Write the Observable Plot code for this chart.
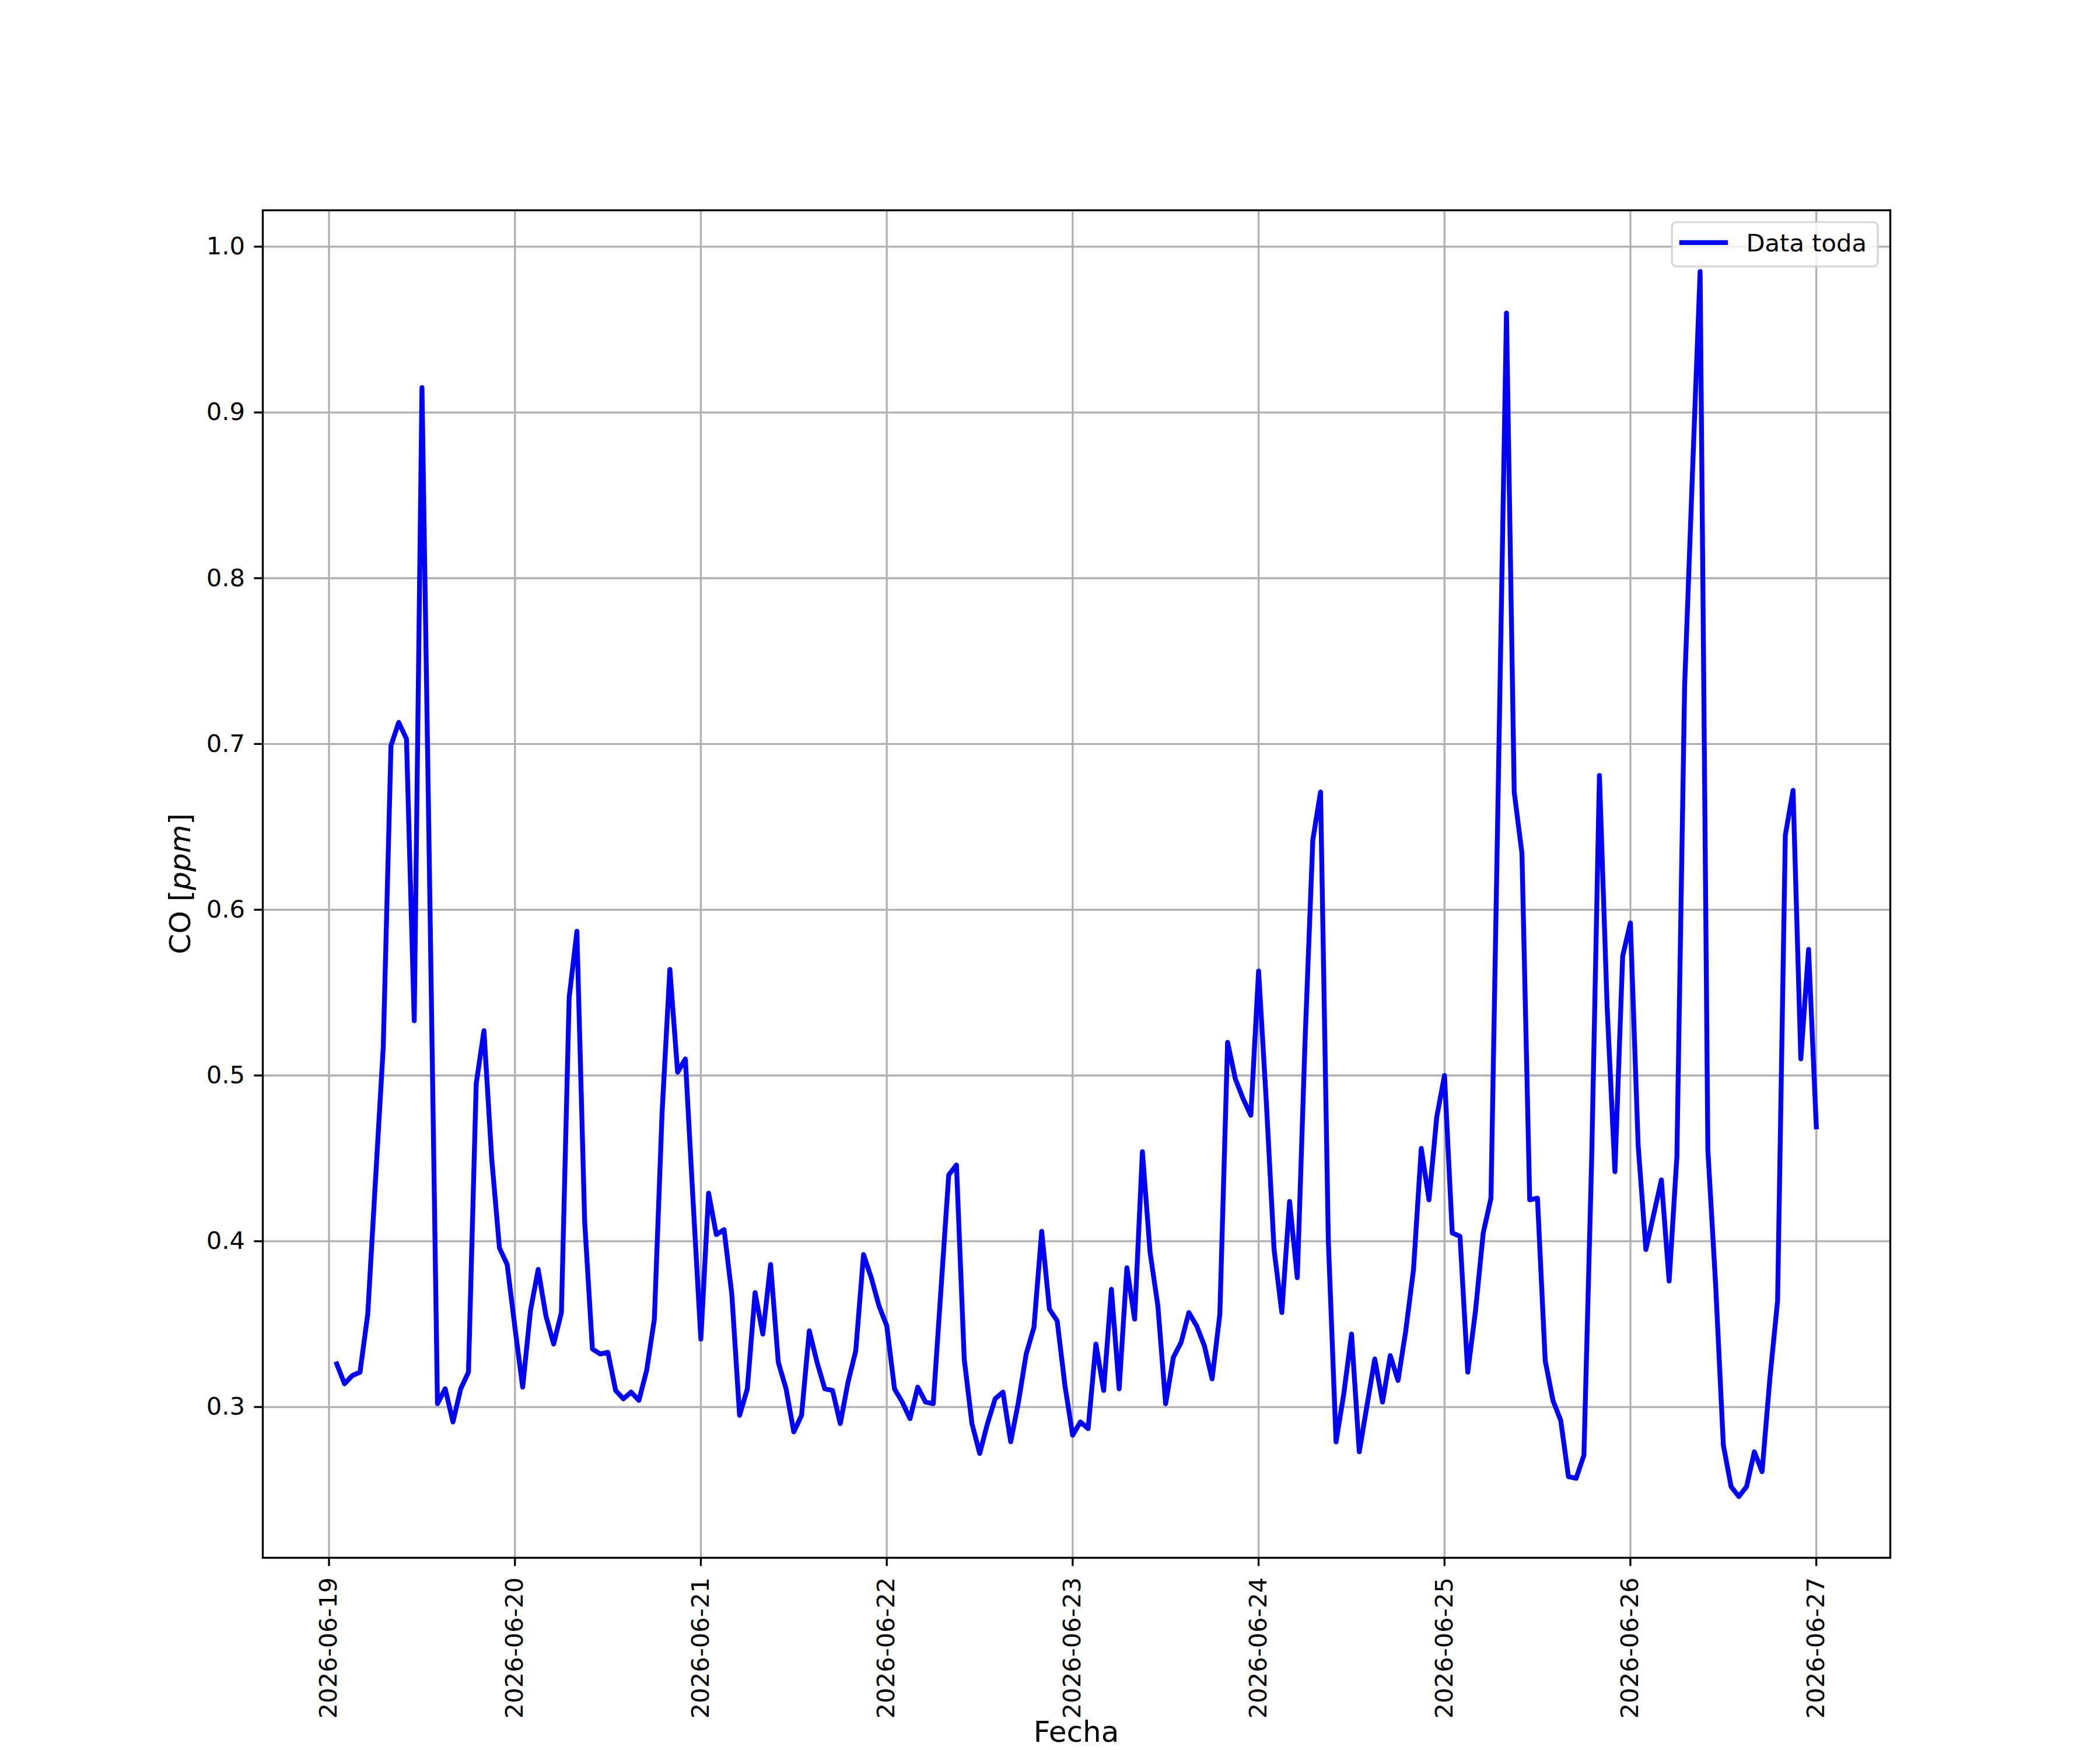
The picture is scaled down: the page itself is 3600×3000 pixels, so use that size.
<!DOCTYPE html>
<html>
<head>
<meta charset="utf-8">
<script src="https://cdn.jsdelivr.net/npm/d3@7"></script>
<script src="https://cdn.jsdelivr.net/npm/@observablehq/plot@0.6"></script>
<style>
  html, body { margin: 0; padding: 0; background: #ffffff; }
  #chart { width: 3600px; height: 3000px; }
</style>
</head>
<body>
<div id="chart"></div>
<script>
// ---------------- data ----------------
const seriesName = "Data toda";
const xLabel = "Fecha";
const yLabelParts = ["CO [", "ppm", "]"];   // "ppm" in italics (mathtext)
const firstTime = "2026-06-19T01:00:00Z";  // hourly readings from here

// CO [ppm], one value per hour
const coDay1 = [0.326, 0.314, 0.319, 0.321, 0.356, 0.437, 0.517, 0.699, 0.713, 0.703, 0.533, 0.915,
                0.612, 0.302, 0.311, 0.291, 0.311, 0.321, 0.495, 0.527, 0.450, 0.396, 0.386, 0.348];
const coDay2 = [0.312, 0.358, 0.383, 0.355, 0.338, 0.357, 0.547, 0.587, 0.412, 0.335, 0.332, 0.333,
                0.310, 0.305, 0.309, 0.304, 0.322, 0.353, 0.478, 0.564, 0.502, 0.510, 0.424, 0.341];
const coDay3 = [0.429, 0.404, 0.407, 0.368, 0.295, 0.311, 0.369, 0.344, 0.386, 0.327, 0.311, 0.285,
                0.295, 0.346, 0.327, 0.311, 0.310, 0.290, 0.315, 0.334, 0.392, 0.378, 0.361, 0.349];
const coDay4 = [0.311, 0.303, 0.293, 0.312, 0.303, 0.302, 0.371, 0.440, 0.446, 0.329, 0.290, 0.272,
                0.290, 0.305, 0.309, 0.279, 0.303, 0.332, 0.348, 0.406, 0.359, 0.352, 0.313, 0.283];
const coDay5 = [0.291, 0.287, 0.338, 0.310, 0.371, 0.311, 0.384, 0.353, 0.454, 0.393, 0.361, 0.302,
                0.330, 0.339, 0.357, 0.349, 0.337, 0.317, 0.356, 0.520, 0.498, 0.486, 0.476, 0.563];
const coDay6 = [0.484, 0.395, 0.357, 0.424, 0.378, 0.521, 0.642, 0.671, 0.401, 0.279, 0.308, 0.344,
                0.273, 0.301, 0.329, 0.303, 0.331, 0.316, 0.346, 0.383, 0.456, 0.425, 0.475, 0.500];
const coDay7 = [0.405, 0.403, 0.321, 0.358, 0.405, 0.426, 0.690, 0.960, 0.671, 0.634, 0.425, 0.426,
                0.328, 0.304, 0.292, 0.258, 0.257, 0.271, 0.450, 0.681, 0.541, 0.442, 0.572, 0.592];
const coDay8 = [0.458, 0.395, 0.416, 0.437, 0.376, 0.451, 0.735, 0.862, 0.985, 0.455, 0.374, 0.277,
                0.252, 0.246, 0.252, 0.273, 0.261, 0.317, 0.364, 0.645, 0.672, 0.510, 0.576, 0.469];

const dayTicks = ["2026-06-19", "2026-06-20", "2026-06-21", "2026-06-22", "2026-06-23",
                  "2026-06-24", "2026-06-25", "2026-06-26", "2026-06-27"];
const yTicks = [0.3, 0.4, 0.5, 0.6, 0.7, 0.8, 0.9, 1.0];

// ---------------- build ----------------
const co = [].concat(coDay1, coDay2, coDay3, coDay4, coDay5, coDay6, coDay7, coDay8);
const t0 = new Date(firstTime);
const data = co.map((v, i) => ({ time: d3.utcHour.offset(t0, i), co: v }));
const tickDates = dayTicks.map(d => new Date(d + "T00:00:00Z"));

// matplotlib-like 5% autoscale margins
const xExt = d3.extent(data, d => +d.time);
const xPad = (xExt[1] - xExt[0]) * 0.05;
const yExt = d3.extent(co);
const yPad = (yExt[1] - yExt[0]) * 0.05;

const W = 3600, H = 3000;
const mL = 450, mR = 360, mT = 360, mB = 330;
const fs = 41.67;            // 10pt @ 300dpi
const fsLabel = 50;          // 12pt @ 300dpi
const lw = 3.33;             // 0.8pt
const font = "'DejaVu Sans', 'Liberation Sans', sans-serif";

const plot = Plot.plot({
  width: W, height: H,
  marginLeft: mL, marginRight: mR, marginTop: mT, marginBottom: mB,
  style: { fontFamily: font, fontSize: fs + "px", background: "white", color: "black", overflow: "visible" },
  x: { type: "utc", domain: [new Date(xExt[0] - xPad), new Date(xExt[1] + xPad)] },
  y: { domain: [yExt[0] - yPad, yExt[1] + yPad] },
  marks: [
    Plot.gridX(tickDates, { stroke: "#b0b0b0", strokeOpacity: 1, strokeWidth: lw }),
    Plot.gridY(yTicks, { stroke: "#b0b0b0", strokeOpacity: 1, strokeWidth: lw }),
    Plot.line(data, { x: "time", y: "co", stroke: "#0000ff", strokeWidth: 8.33,
                      strokeLinejoin: "round", strokeLinecap: "square" }),
    Plot.frame({ stroke: "black", strokeWidth: lw }),
    Plot.axisX({ ticks: tickDates, tickFormat: d3.utcFormat("%Y-%m-%d"), tickRotate: -90,
                 textAnchor: "end", lineAnchor: "middle",
                 tickSize: 14.6, tickPadding: 19, strokeWidth: lw, fontSize: fs, label: null }),
    Plot.axisY({ ticks: yTicks, tickFormat: d3.format(".1f"),
                 tickSize: 14.6, tickPadding: 16, strokeWidth: lw, fontSize: fs, label: null })
  ]
});

document.getElementById("chart").appendChild(plot);

// ---------------- labels & legend ----------------
const svg = d3.select(plot);
svg.append("text")
  .attr("x", (mL + W - mR) / 2).attr("y", 2986)
  .attr("text-anchor", "middle").attr("font-size", fsLabel).attr("font-family", font)
  .attr("fill", "black").text(xLabel);

const yl = svg.append("text")
  .attr("transform", `translate(326,${(mT + H - mB) / 2}) rotate(-90)`)
  .attr("text-anchor", "middle").attr("font-size", fsLabel).attr("font-family", font)
  .attr("fill", "black");
yl.append("tspan").text(yLabelParts[0]);
yl.append("tspan").attr("font-style", "italic").text(yLabelParts[1]);
yl.append("tspan").text(yLabelParts[2]);

// legend (upper right)
const pad = 0.5 * fs, bpad = 0.4 * fs, handleLen = 2 * fs, textPad = 0.8 * fs;
const txtW = 207;
const boxW = bpad * 2 + handleLen + textPad + txtW - 4;
const boxH = 76;
const boxX = W - mR - pad - boxW;
const boxY = mT + pad;
const lg = svg.append("g");
lg.append("rect")
  .attr("x", boxX).attr("y", boxY).attr("width", boxW).attr("height", boxH).attr("rx", 8)
  .attr("fill", "white").attr("fill-opacity", 0.8)
  .attr("stroke", "#cccccc").attr("stroke-opacity", 0.8).attr("stroke-width", lw);
lg.append("line")
  .attr("x1", boxX + bpad - 4).attr("x2", boxX + bpad - 4 + handleLen)
  .attr("y1", boxY + 35).attr("y2", boxY + 35)
  .attr("stroke", "#0000ff").attr("stroke-width", 8.33);
lg.append("text")
  .attr("x", boxX + bpad - 4 + handleLen + textPad - 2).attr("y", boxY + 50)
  .attr("text-anchor", "start")
  .attr("font-size", fs).attr("font-family", font).attr("fill", "black")
  .text(seriesName);
</script>
</body>
</html>
